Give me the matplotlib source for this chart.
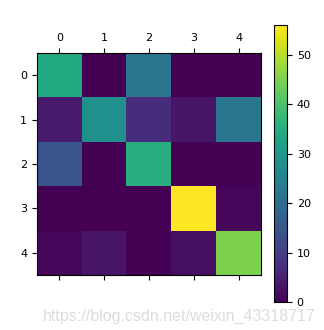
import numpy as np
import matplotlib.pyplot as plt

# matriz de confusion
clases = [0, 1, 2, 3, 4]
fila_0 = [34, 0, 22, 0, 0]
fila_1 = [4, 28, 7, 3, 22]
fila_2 = [15, 0, 35, 0, 0]
fila_3 = [0, 0, 0, 56, 1]
fila_4 = [1, 3, 0, 2, 45]
matriz = np.array([fila_0, fila_1, fila_2, fila_3, fila_4])

fig = plt.figure(figsize=(3.24, 3.30), dpi=100)
ax = fig.add_axes([37 / 324, 1 - 275 / 330, 224 / 324, 222 / 330])
im = ax.matshow(matriz, cmap='viridis', aspect='auto')
ax.set_xticks(range(len(clases)))
ax.set_yticks(range(len(clases)))
ax.set_xticklabels(clases)
ax.set_yticklabels(clases)
ax.tick_params(labelsize=8)

cax = fig.add_axes([274 / 324, 1 - 302 / 330, 13 / 324, 277 / 330])
cb = fig.colorbar(im, cax=cax)
cb.ax.tick_params(labelsize=8)

# marca de agua del original
fig.text(43 / 324, 1 - 316 / 330, 'https://blog.csdn.net/weixin_43318717', ha='left', va='center',
         fontsize=11.5, family='Liberation Sans', color='#dcdcdc', zorder=0)

fig.savefig('out.png', dpi=100)
